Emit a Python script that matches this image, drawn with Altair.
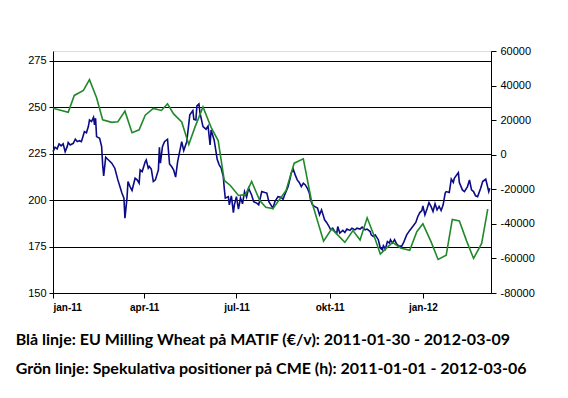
import altair as alt
import pandas as pd

# Blue line: EU Milling Wheat (EUR/t), day offsets from 2011-01-01
blue_days = [0,2,4,6,8,10,12,14,15,17,20,22,24,26,28,30,31,33,35,36,38,40,41,42,43,46,48,49,50,52,
             54,58,61,64,68,70,71,73,74,76,78,81,83,85,86,88,91,92,94,95,97,99,101,104,105,106,108,110,113,115,
             117,119,121,123,127,129,132,135,138,139,141,142,144,145,148,151,153,155,156,159,161,162,164,166,168,169,170,173,174,176,
             178,179,181,183,185,187,189,191,193,196,198,201,203,206,209,211,213,217,219,222,225,227,229,232,234,235,237,239,241,243,
             245,247,249,251,253,254,256,258,261,263,265,266,268,270,272,274,276,278,280,281,283,286,288,290,293,295,298,300,303,305,
             308,310,313,314,316,318,321,323,325,326,328,330,332,333,335,337,339,341,344,346,349,352,355,358,360,362,364,365,367,369,
             371,373,375,377,379,381,383,385,387,388,391,393,395,396,400,401,404,406,409,411,413,415,417,419,422,424,427,428,430,431]
blue_vals = [226.1,228.5,227.6,230.3,229.2,230.3,226.1,228.8,231.0,229.7,230.6,232.8,231.5,232.0,231.5,235.1,236.9,236.3,239.9,243.2,
             242.3,244.6,240.5,244.1,234.2,233.3,228.8,219.0,213.1,223.1,222.0,219.9,217.2,210.9,203.8,201.1,190.3,201.1,210.0,207.3,
             205.2,211.8,210.9,209.1,216.3,215.4,220.7,221.7,217.2,218.1,216.7,210.0,210.9,216.3,228.5,219.9,228.8,231.5,232.8,219.5,
             218.1,216.3,212.4,220.7,231.5,226.7,231.5,245.9,248.2,243.5,243.2,250.7,251.8,247.1,239.6,238.2,239.9,229.7,237.8,232.4,
             225.6,222.0,219.0,217.2,212.7,206.4,201.1,201.9,197.5,202.3,193.3,197.5,201.9,195.2,201.2,198.0,204.6,201.6,206.4,202.8,
             199.2,198.4,197.5,204.6,204.1,203.8,199.2,195.7,199.2,201.9,201.6,200.5,203.4,207.3,211.8,214.5,216.7,213.6,210.9,209.5,
             207.3,209.1,208.2,206.4,203.8,200.5,197.5,196.6,195.7,192.1,194.8,193.0,189.4,188.0,186.2,184.0,184.9,183.1,182.3,185.8,
             182.3,183.7,182.6,184.4,183.7,184.9,184.0,184.9,184.4,185.5,184.0,184.4,183.1,181.3,180.4,181.3,178.7,174.2,173.3,175.4,
             173.7,177.7,176.9,178.7,176.9,178.7,176.5,175.4,175.1,177.2,181.3,183.7,185.8,188.0,191.2,193.3,194.4,196.9,192.1,195.2,
             198.7,196.6,193.9,198.0,194.8,196.6,194.4,197.5,203.8,204.6,204.1,211.3,209.5,211.8,214.8,209.5,205.5,204.6,207.3,210.9,
             205.5,204.6,202.3,201.9,206.4,210.0,211.3,209.1,204.6,206.4]

# Green line: speculative positions on CME (contracts), day offsets from 2011-01-01
green_days = [0,15,21,30,36,43,49,58,64,71,78,85,91,99,107,113,119,127,134,140,
              148,156,163,169,175,183,190,196,204,210,217,230,238,247,255,267,275,288,296,303,
              310,316,323,335,343,352,359,365,373,380,388,394,401,408,415,423,429]
green_vals = [26900,24600,34300,37200,43400,33000,20200,18700,19100,25200,12700,14400,22900,26800,25600,29500,23600,18900,5900,15800,
              27700,15800,8200,-14900,-17800,-23600,-23100,-15500,-26500,-30400,-31200,-20700,-4900,-2400,-26500,-50000,-42900,-50700,-43900,-49300,
              -36500,-45600,-57500,-50700,-54000,-55300,-44500,-40000,-50300,-60600,-58100,-37500,-38300,-49700,-60000,-51300,-31500]

left_ticks = [150, 175, 200, 225, 250, 275]
right_ticks = [-80000, -60000, -40000, -20000, 0, 20000, 40000, 60000]
x_tick_dates = ["2011-01-01", "2011-04-01", "2011-07-01", "2011-10-01", "2012-01-01"]

title_lines = ["Blå linje: EU Milling Wheat på MATIF (€/v): 2011-01-30 - 2012-03-09",
               "Grön linje: Spekulativa positioner på CME (h): 2011-01-01 - 2012-03-06"]

base = pd.Timestamp("2011-01-01")
blue_df = pd.DataFrame({
    "date": [(base + pd.Timedelta(days=d)).strftime("%Y-%m-%d") for d in blue_days],
    "price": blue_vals,
})
green_df = pd.DataFrame({
    "date": [(base + pd.Timedelta(days=d)).strftime("%Y-%m-%d") for d in green_days],
    "pos": green_vals,
})

def ms(s):
    return int(pd.Timestamp(s, tz="UTC").timestamp() * 1000)

x_domain = [ms("2011-01-01"), ms("2012-03-08T05:00:00")]
x_values = [ms(s) for s in x_tick_dates]

month_expr = ("['jan','feb','mar','apr','maj','jun','jul','aug','sep','okt','nov','dec'][utcmonth(datum.value)]"
              " + '-' + utcFormat(datum.value, '%y')")

x_enc = alt.X(
    "date:T",
    scale=alt.Scale(type="utc", domain=x_domain, nice=False),
    axis=alt.Axis(
        values=x_values, labelExpr=month_expr, title=None, grid=False,
        domainColor="black", tickColor="black", tickSize=5,
        labelFont="Liberation Sans", labelFontSize=10, labelFontWeight="bold",
        labelColor="black", labelPadding=4,
    ),
)

blue = alt.Chart(blue_df).mark_line(color="#0b0b86", strokeWidth=1.6).encode(
    x=x_enc,
    y=alt.Y(
        "price:Q",
        scale=alt.Scale(domain=[150, 280.3], nice=False, zero=False),
        axis=alt.Axis(
            orient="left", values=left_ticks, title=None, grid=True,
            gridColor="black", gridWidth=1, gridOpacity=1,
            domainColor="black", tickColor="black", tickSize=4,
            labelFont="Liberation Sans", labelFontSize=11, labelColor="black",
            labelPadding=3,
        ),
    ),
)

green = alt.Chart(green_df).mark_line(color="#22892b", strokeWidth=1.6).encode(
    x=x_enc,
    y=alt.Y(
        "pos:Q",
        scale=alt.Scale(domain=[-80000, 60000], nice=False, zero=False),
        axis=alt.Axis(
            orient="right", values=right_ticks, title=None, grid=False,
            labelExpr="'' + datum.value",
            domainColor="black", tickColor="black", tickSize=5,
            labelFont="Liberation Sans", labelFontSize=11, labelColor="black",
            labelPadding=4,
        ),
    ),
)

chart = alt.layer(blue, green).resolve_scale(y="independent").properties(
    width=438,
    height=242,
    autosize=alt.AutoSizeParams(type="none"),
    padding={"left": 45, "top": 43, "right": 69, "bottom": 95},
    title=alt.TitleParams(
        text=title_lines, orient="bottom", anchor="start", dx=-12, offset=20,
        font="Lato", fontSize=16, fontWeight="bold",
        color="black", lineHeight=29,
    ),
).configure_view(stroke=None).configure(background="white")

chart.save("out.html", embed_options={"renderer": "svg", "actions": False})
